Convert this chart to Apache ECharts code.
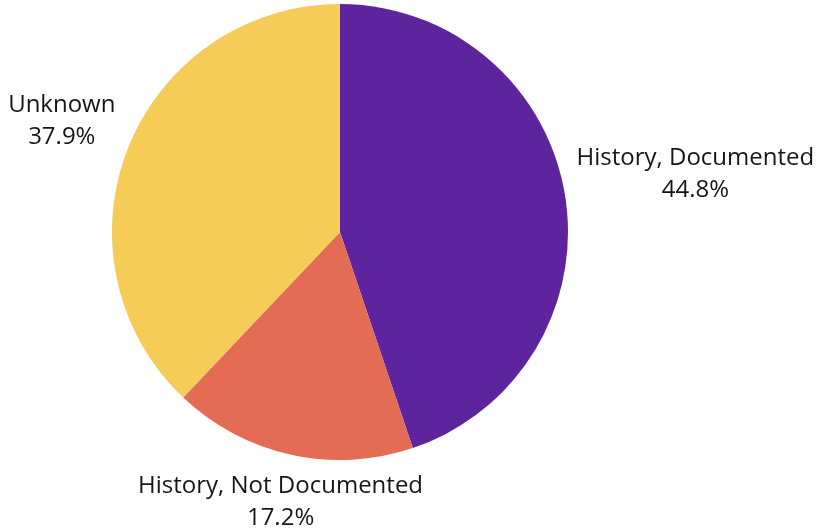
<!DOCTYPE html>
<html>
<head>
<meta charset="utf-8">
<script src="https://cdn.jsdelivr.net/npm/echarts@6/dist/echarts.min.js"></script>
<style>
html,body{margin:0;padding:0;background:#fff;}
#chart{width:826px;height:531px;}
</style>
</head>
<body>
<div id="chart"></div>
<script>
const categories = ['History, Documented', 'History, Not Documented', 'Unknown'];
const counts = [26, 10, 22];
const colors = ['#5E249E', '#E46C54', '#F4CC57'];

const CX = 340, CY = 232, R = 228, GAP = 10;
const total = counts.reduce((a, b) => a + b, 0);
const midAngles = [];
let acc = 0;
counts.forEach(v => { midAngles.push((acc + v / 2) / total * 2 * Math.PI); acc += v; });

function placeLabel(params) {
  const i = params.dataIndex;
  const a = midAngles[i];
  const ux = Math.sin(a), uy = -Math.cos(a);
  const hw = params.labelRect.width / 2, hh = params.labelRect.height / 2;
  let lo = R, hi = R + 600;
  for (let k = 0; k < 60; k++) {
    const d = (lo + hi) / 2;
    const px = Math.max(0, Math.abs(ux * d) - hw);
    const py = Math.max(0, Math.abs(uy * d) - hh);
    const dist = Math.sqrt(px * px + py * py);
    if (dist < R + GAP) lo = d; else hi = d;
  }
  const d = (lo + hi) / 2;
  return { x: CX + ux * d, y: CY + uy * d, align: 'center', verticalAlign: 'middle' };
}

const chart = echarts.init(document.getElementById('chart'));
chart.setOption({
  animation: false,
  color: colors,
  series: [{
    type: 'pie',
    center: [CX, CY],
    radius: [0, R],
    startAngle: 90,
    clockwise: true,
    avoidLabelOverlap: false,
    itemStyle: { borderWidth: 0 },
    label: {
      show: true,
      position: 'outside',
      fontFamily: 'Open Sans',
      fontSize: 24,
      lineHeight: 32,
      color: '#161616',
      align: 'center',
      formatter: p => p.name + '\n' + (p.value / total * 100).toFixed(1) + '%'
    },
    labelLine: { show: false },
    labelLayout: placeLabel,
    emphasis: { disabled: true },
    data: categories.map((c, i) => ({ name: c, value: counts[i] }))
  }]
});
</script>
</body>
</html>
